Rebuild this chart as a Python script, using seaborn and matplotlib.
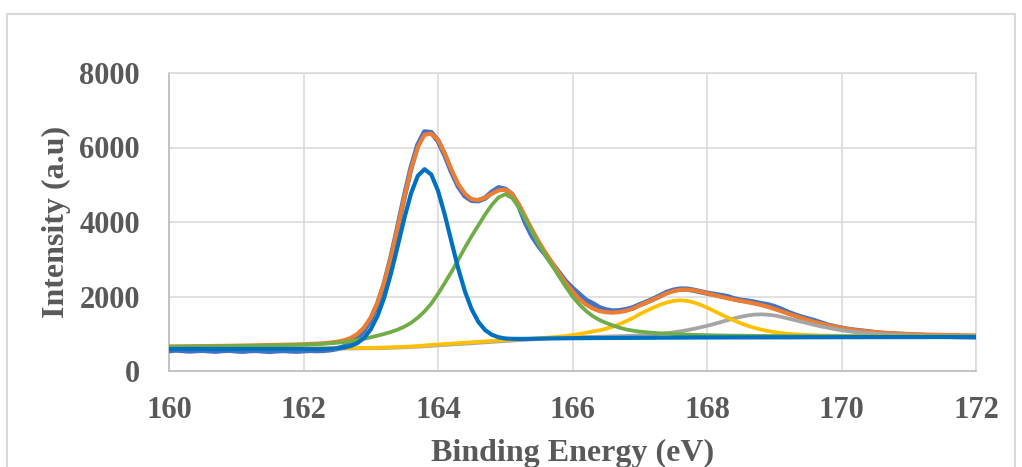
import numpy as np
import pandas as pd
import matplotlib
matplotlib.use("Agg")
import matplotlib.pyplot as plt
import seaborn as sns
from matplotlib.patches import Rectangle

# ---------------- data ----------------
energy = np.linspace(160, 172, 121)  # binding energy grid (eV), 0.1 eV step

raw_data = [
    545, 560, 550, 535, 545, 555, 540, 530, 548, 556,
    538, 528, 545, 552, 535, 525, 540, 550, 538, 530,
    542, 553, 545, 552, 570, 600, 650, 740, 880, 1090,
    1380, 1790, 2340, 3040, 3850, 4690, 5460, 6070, 6420, 6400,
    6180, 5800, 5350, 4960, 4700, 4580, 4570, 4640, 4800, 4920,
    4880, 4740, 4440, 3980, 3620, 3350, 3120, 2870, 2640, 2400,
    2220, 2060, 1900, 1810, 1700, 1640, 1610, 1620, 1650, 1700,
    1780, 1850, 1930, 2020, 2110, 2170, 2200, 2200, 2170, 2130,
    2090, 2060, 2030, 2000, 1940, 1900, 1880, 1850, 1810, 1780,
    1730, 1660, 1580, 1510, 1450, 1400, 1350, 1290, 1230, 1190,
    1150, 1120, 1095, 1075, 1055, 1030, 1012, 1000, 990, 982,
    970, 962, 955, 948, 942, 936, 930, 925, 921, 918,
    915,
]

envelope = [
    659, 660, 662, 663, 665, 667, 669, 672, 674, 676,
    679, 682, 685, 688, 692, 696, 700, 704, 708, 713,
    718, 726, 734, 744, 761, 785, 821, 886, 992, 1165,
    1436, 1829, 2370, 3052, 3842, 4667, 5426, 6012, 6343, 6370,
    6206, 5843, 5402, 5020, 4760, 4610, 4590, 4650, 4760, 4850,
    4870, 4760, 4480, 4138, 3791, 3466, 3172, 2899, 2629, 2359,
    2140, 1933, 1785, 1680, 1610, 1577, 1567, 1581, 1618, 1675,
    1761, 1839, 1920, 1997, 2085, 2145, 2180, 2185, 2165, 2130,
    2085, 2040, 1995, 1955, 1918, 1884, 1850, 1814, 1774, 1725,
    1667, 1606, 1542, 1483, 1425, 1369, 1316, 1270, 1229, 1189,
    1154, 1124, 1099, 1077, 1059, 1044, 1030, 1019, 1009, 1001,
    993, 987, 981, 976, 972, 968, 965, 963, 960, 958,
    956,
]

peak_1 = [
    590, 590, 590, 590, 590, 590, 590, 590, 590, 590,
    590, 590, 590, 590, 590, 590, 590, 590, 590, 590,
    591, 592, 592, 593, 599, 609, 628, 670, 748, 887,
    1120, 1474, 1972, 2610, 3348, 4104, 4773, 5240, 5417, 5274,
    4840, 4201, 3471, 2756, 2139, 1658, 1319, 1100, 973, 906,
    872, 864, 862, 862, 865, 869, 872, 875, 877, 879,
    881, 882, 883, 884, 885, 886, 887, 888, 889, 890,
    891, 892, 893, 894, 895, 896, 897, 898, 899, 900,
    900, 900, 901, 901, 902, 902, 902, 903, 903, 903,
    904, 904, 904, 905, 905, 906, 906, 906, 907, 907,
    908, 908, 908, 909, 909, 909, 909, 909, 910, 910,
    910, 910, 910, 911, 911, 911, 911, 911, 912, 912,
    912,
]

peak_2 = [
    652, 653, 655, 656, 658, 660, 662, 664, 666, 668,
    670, 673, 676, 679, 682, 685, 689, 693, 697, 701,
    706, 714, 722, 732, 743, 758, 776, 800, 830, 865,
    905, 948, 995, 1048, 1110, 1190, 1295, 1430, 1600, 1810,
    2070, 2360, 2660, 2980, 3310, 3620, 3910, 4200, 4460, 4660,
    4745, 4650, 4400, 4080, 3730, 3400, 3100, 2820, 2540, 2260,
    2000, 1790, 1615, 1475, 1370, 1290, 1222, 1162, 1115, 1082,
    1058, 1040, 1025, 1012, 1001, 992, 984, 977, 971, 966,
    962, 958, 955, 952, 950, 948, 946, 944, 943, 941,
    940, 939, 938, 937, 936, 935, 934, 934, 933, 932,
    932, 931, 931, 930, 930, 930, 929, 929, 929, 928,
    928, 928, 927, 927, 927, 926, 926, 926, 925, 925,
    925,
]

peak_3 = [
    598, 598, 598, 599, 599, 599, 599, 600, 600, 600,
    600, 601, 601, 601, 602, 602, 603, 603, 604, 604,
    605, 606, 607, 608, 609, 611, 613, 616, 618, 620,
    622, 626, 631, 637, 643, 650, 659, 670, 684, 700,
    712, 724, 736, 747, 758, 770, 782, 795, 807, 820,
    832, 841, 850, 860, 870, 881, 893, 906, 921, 940,
    965, 993, 1025, 1062, 1090, 1135, 1190, 1260, 1340, 1425,
    1528, 1615, 1700, 1776, 1839, 1881, 1897, 1883, 1843, 1780,
    1702, 1615, 1526, 1439, 1358, 1283, 1217, 1161, 1114, 1075,
    1044, 1019, 1000, 986, 974, 966, 959, 953, 950, 946,
    943, 941, 938, 937, 935, 934, 932, 931, 931, 930,
    928, 927, 926, 926, 925, 925, 924, 924, 923, 923,
    923,
]

peak_4 = [
    593, 593, 593, 593, 593, 593, 593, 593, 593, 593,
    594, 594, 594, 594, 594, 595, 595, 595, 595, 595,
    596, 597, 598, 599, 600, 601, 603, 605, 607, 609,
    611, 614, 618, 623, 629, 636, 644, 653, 664, 676,
    688, 700, 712, 723, 734, 745, 757, 769, 781, 793,
    805, 816, 827, 838, 849, 860, 871, 882, 892, 900,
    907, 910, 913, 917, 920, 924, 929, 935, 941, 948,
    957, 968, 981, 997, 1016, 1038, 1064, 1095, 1130, 1171,
    1213, 1260, 1311, 1361, 1410, 1454, 1489, 1513, 1521, 1513,
    1491, 1456, 1412, 1370, 1325, 1280, 1235, 1195, 1160, 1125,
    1095, 1068, 1046, 1028, 1012, 998, 987, 977, 969, 963,
    957, 952, 948, 945, 942, 939, 937, 936, 935, 934,
    932,
]

x_ticks = [160, 162, 164, 166, 168, 170, 172]
y_ticks = [0, 2000, 4000, 6000, 8000]

# ---------------- styling ----------------
sns.set_theme(style="white")
plt.rcParams["font.family"] = ["Liberation Serif", "DejaVu Serif"]
plt.rcParams["font.weight"] = "bold"

text_color = "#595959"
grid_color = "#D9D9D9"

fig = plt.figure(figsize=(10.22, 4.67), dpi=100)
ax = fig.add_axes([169 / 1022, 1 - 371 / 467, (976 - 169) / 1022, (371 - 73) / 467])

df = pd.DataFrame({
    "energy": energy,
    "raw": raw_data,
    "envelope": envelope,
    "p4": peak_4,
    "p3": peak_3,
    "p2": peak_2,
    "p1": peak_1,
})

series = [
    ("raw", "#4472C4", 3.8),
    ("envelope", "#ED7D31", 3.0),
    ("p4", "#A5A5A5", 2.7),
    ("p3", "#FFC000", 2.7),
    ("p2", "#70AD47", 2.7),
    ("p1", "#0070C0", 3.0),
]
for i, (col, color, lw) in enumerate(series):
    sns.lineplot(data=df, x="energy", y=col, ax=ax, color=color,
                 linewidth=lw, zorder=3 + i, legend=False,
                 solid_joinstyle="round", solid_capstyle="round")

ax.set_xlim(160, 172)
ax.set_ylim(0, 8000)
ax.set_xticks(x_ticks)
ax.set_yticks(y_ticks)
ax.set_xticklabels([str(v) for v in x_ticks])
ax.set_yticklabels([str(v) for v in y_ticks])
ax.grid(True, color=grid_color, linewidth=1.1, zorder=0)
ax.set_axisbelow(True)

for side in ["top", "right"]:
    ax.spines[side].set_color(grid_color)
    ax.spines[side].set_linewidth(1.1)
for side in ["left", "bottom"]:
    ax.spines[side].set_color("#BFBFBF")
    ax.spines[side].set_linewidth(1.3)

ax.tick_params(axis="both", length=0, labelsize=22, labelcolor=text_color)
ax.tick_params(axis="y", pad=21)
ax.tick_params(axis="x", pad=18)
for lab in ax.get_xticklabels() + ax.get_yticklabels():
    lab.set_fontweight("bold")

ax.set_xlabel("Binding Energy (eV)", fontsize=23, fontweight="bold",
              color=text_color, labelpad=10)
ax.set_ylabel("Intensity (a.u)", fontsize=23, fontweight="bold",
              color=text_color, labelpad=6)

# outer chart-area border (light gray)
fig.patches.append(Rectangle((7 / 1022, -0.2), (1015 - 7) / 1022, 1.2 - 14 / 467,
                             transform=fig.transFigure, fill=False,
                             edgecolor=grid_color, linewidth=1.5, zorder=0))

fig.savefig("out.png", dpi=100)
